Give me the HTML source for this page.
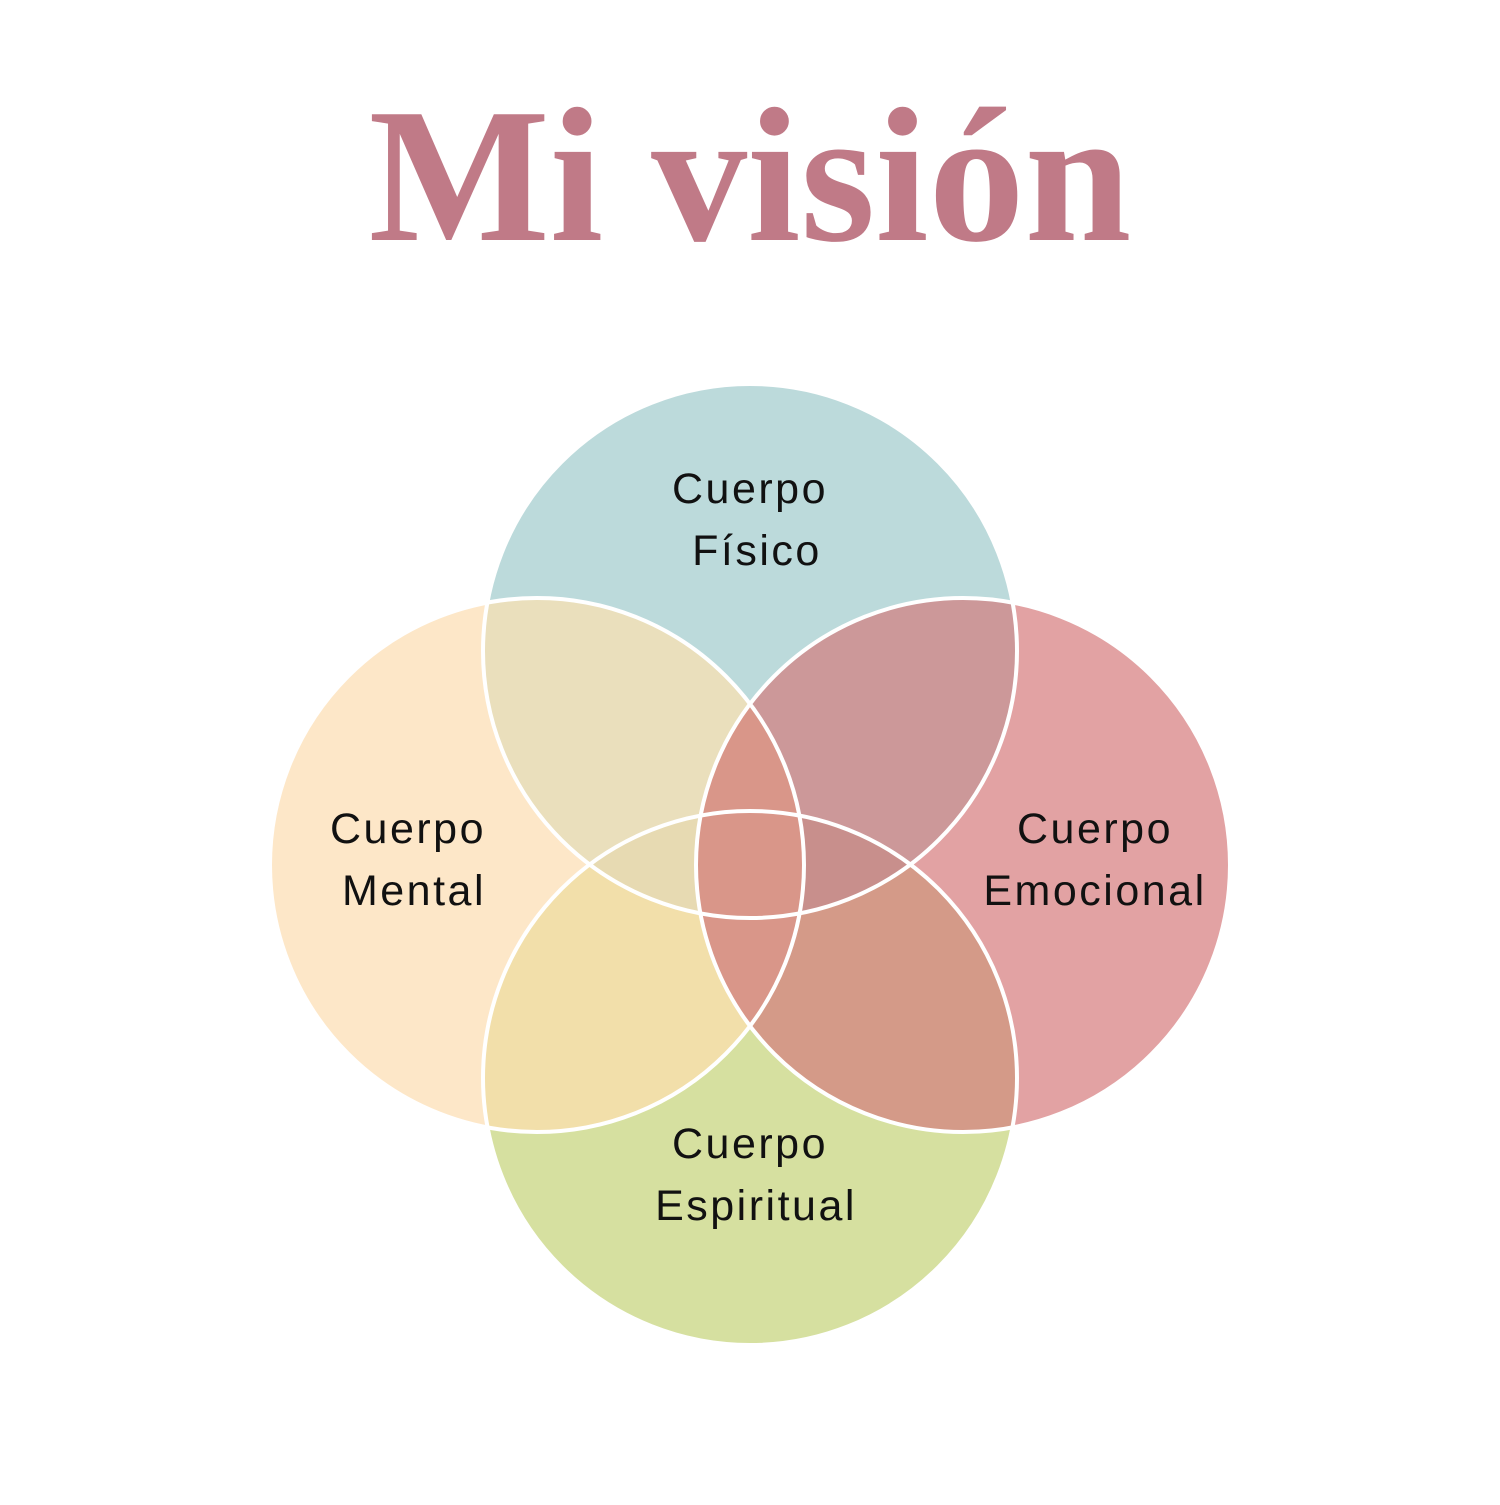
<!DOCTYPE html>
<html><head><meta charset="utf-8"><style>
html,body{margin:0;padding:0;background:#fff;}
body{width:1500px;height:1500px;overflow:hidden;}
</style></head><body>
<svg width="1500" height="1500" viewBox="0 0 1500 1500" xmlns="http://www.w3.org/2000/svg">
<defs>
<clipPath id="cT"><circle cx="750" cy="651" r="267"/></clipPath>
<clipPath id="cL"><circle cx="537" cy="865" r="267"/></clipPath>
<clipPath id="cR"><circle cx="963" cy="865" r="267"/></clipPath>
<clipPath id="cB"><circle cx="750" cy="1078" r="267"/></clipPath>
</defs>
<text x="750" y="240" text-anchor="middle" font-family="'Liberation Serif',serif" font-weight="bold" font-size="192" fill="#C07A87">Mi visión</text>
<circle cx="750" cy="651" r="267" fill="#BCDADB"/>
<circle cx="537" cy="865" r="267" fill="#FDE7C8"/>
<circle cx="963" cy="865" r="267" fill="#E2A2A3"/>
<circle cx="750" cy="1078" r="267" fill="#D6E0A0"/>
<g clip-path="url(#cT)"><circle cx="537" cy="865" r="267" fill="#EADFBC"/><circle cx="963" cy="865" r="267" fill="#CC9899"/></g>
<g clip-path="url(#cB)"><circle cx="537" cy="865" r="267" fill="#F2DFAA"/><circle cx="963" cy="865" r="267" fill="#D49A88"/></g>
<g clip-path="url(#cT)"><g clip-path="url(#cB)"><circle cx="537" cy="865" r="267" fill="#E7DAB2"/><circle cx="963" cy="865" r="267" fill="#C88F8C"/></g></g>
<g clip-path="url(#cL)"><circle cx="963" cy="865" r="267" fill="#D99689"/></g>
<g fill="none" stroke="#fff" stroke-width="4">
<circle cx="750" cy="651" r="267"/>
<circle cx="537" cy="865" r="267"/>
<circle cx="963" cy="865" r="267"/>
<circle cx="750" cy="1078" r="267"/>
</g>
<g font-family="'Liberation Sans',sans-serif" font-size="43" fill="#111" text-anchor="middle" letter-spacing="2.5">
<text x="750" y="503">Cuerpo</text><text x="757" y="565">Físico</text>
<text x="408" y="843">Cuerpo</text><text x="414" y="905">Mental</text>
<text x="1095" y="843">Cuerpo</text><text x="1095" y="905">Emocional</text>
<text x="750" y="1158">Cuerpo</text><text x="756" y="1220">Espiritual</text>
</g>
</svg>
</body></html>
